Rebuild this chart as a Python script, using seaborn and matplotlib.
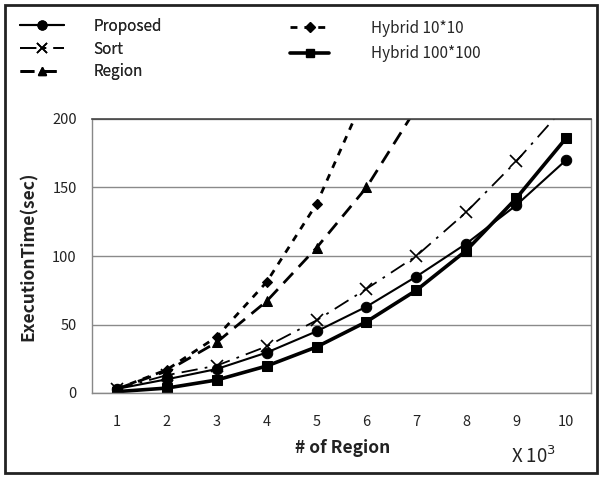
import matplotlib
matplotlib.use("Agg")
import matplotlib.pyplot as plt
from matplotlib.patches import Rectangle
from matplotlib.lines import Line2D
import seaborn as sns
import pandas as pd

regions = [1, 2, 3, 4, 5, 6, 7, 8, 9, 10]
proposed = [3, 10, 17.5, 29.5, 45, 63, 85, 109, 137, 170]
sort_vals = [3, 13, 20, 34, 53, 76, 100, 132, 169, 210]
region_vals = [3, 16, 37, 67, 106, 150, 208]
hybrid10 = [3, 17, 41, 81, 138, 220]
hybrid100 = [1, 3.6, 9.5, 19.7, 33.6, 52, 75, 104, 142, 186]

series_names = ["Proposed", "Sort", "Region", "Hybrid 10*10", "Hybrid 100*100"]
y_ticks = [0, 50, 100, 150, 200]

sns.set_theme(style="white")
plt.rcParams["font.family"] = ["Noto Sans CJK KR", "DejaVu Sans"]

fig = plt.figure(figsize=(6.04, 4.79), dpi=100)
ax = fig.add_axes([92/604, 1-393/479, (591-92)/604, (393-119)/479])

styles = {
    "Proposed": dict(marker="o", markersize=7.5, linewidth=1.5, linestyle="-"),
    "Sort": dict(marker="x", markersize=8, markeredgewidth=1.2, linewidth=1.3,
                 linestyle=(0, (9, 4, 1.5, 4))),
    "Region": dict(marker="^", markersize=7, linewidth=2, linestyle=(0, (5, 3))),
    "Hybrid 10*10": dict(marker="D", markersize=5.5, linewidth=2, linestyle=(0, (2.5, 2.5))),
    "Hybrid 100*100": dict(marker="s", markersize=7, linewidth=2.6, linestyle="-"),
}
data = {
    "Proposed": proposed,
    "Sort": sort_vals,
    "Region": region_vals,
    "Hybrid 10*10": hybrid10,
    "Hybrid 100*100": hybrid100,
}
for name in series_names:
    vals = data[name]
    df = pd.DataFrame({"x": regions[:len(vals)], "y": vals})
    sns.lineplot(data=df, x="x", y="y", ax=ax, color="black", clip_on=True,
                 markeredgecolor="black", **styles[name])

ax.set_xlim(0.5, 10.5)
ax.set_ylim(0, 200)
ax.set_xticks(regions)
ax.set_xticklabels([str(r) for r in regions], fontsize=10.5, color="#222222")
ax.set_xticks([r - 0.5 for r in regions] + [10.5], minor=True)
ax.set_yticks(y_ticks)
ax.set_yticklabels([str(t) for t in y_ticks], fontsize=10.5, color="#222222")
ax.tick_params(axis="x", which="major", length=0, pad=16)
ax.tick_params(axis="x", which="minor", length=5, width=1, color="#888888", direction="out")
ax.tick_params(axis="y", which="major", length=5, width=1, color="#888888", direction="out", pad=6)
ax.yaxis.grid(True, color="#8a8a8a", linewidth=1)
ax.xaxis.grid(False)
for s in ["left", "right", "bottom"]:
    ax.spines[s].set_color("#888888")
    ax.spines[s].set_linewidth(1)
ax.spines["top"].set_color("#444444")
ax.spines["top"].set_linewidth(1.2)

ax.set_xlabel("")
ax.set_ylabel("")
fig.text(343/604, 1-448/479, "# of Region", ha="center", va="center",
         fontsize=12.5, fontweight="bold", color="#222222")
fig.text(29/604, 1-256/479, "ExecutionTime(sec)", ha="center", va="center",
         rotation=90, fontsize=12.5, fontweight="bold", color="#222222")
fig.text(511/604, 1-457/479, r"X 10$^{3}$", ha="left", va="center",
         fontsize=13.5, color="#222222")

def handle(name):
    st = styles[name]
    return Line2D([], [], color="black", markeredgecolor="black", **st)

leg1 = fig.legend([handle(n) for n in series_names[:3]], series_names[:3],
                  loc="upper left", bbox_to_anchor=(6/604, 1-4/479),
                  frameon=False, fontsize=11, handlelength=2.9, handletextpad=1.9,
                  labelspacing=0.38, markerscale=0.85)
leg2 = fig.legend([handle(n) for n in series_names[3:]], series_names[3:],
                  loc="upper left", bbox_to_anchor=(276/604, 1-6/479),
                  frameon=False, fontsize=11, handlelength=2.6, handletextpad=2.75,
                  labelspacing=0.55, markerscale=0.85)
fig.add_artist(leg1)

fig.patches.append(Rectangle((5/604, 6/479), 592/604, 468/479, transform=fig.transFigure,
                             fill=False, edgecolor="#222222", linewidth=2))

fig.savefig("out.png", dpi=100)
